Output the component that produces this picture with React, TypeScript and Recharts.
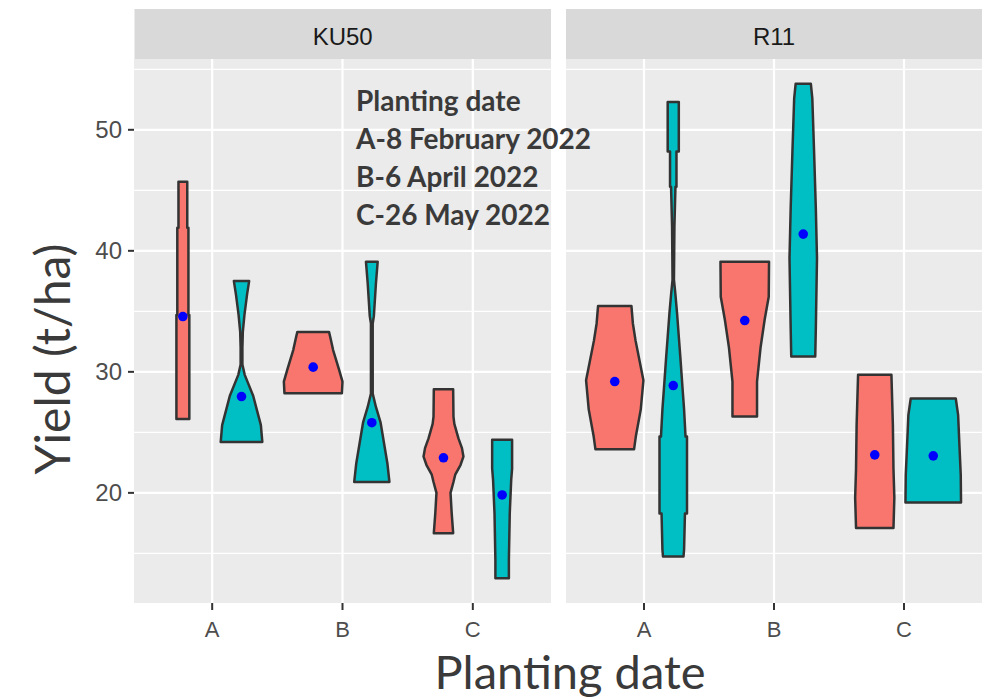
import { ScatterChart, Scatter, XAxis, YAxis, CartesianGrid } from "recharts";

const plantingDates = ["A", "B", "C"];
const cultivars = ["KU50", "R11"];
const majorY = [20, 30, 40, 50];
const minorY = [15, 25, 35, 45, 55];
const yDomain = [10.9, 55.85];

// violin profiles: [yield (t/ha), scaled density where 1 = full half width]
const ku50RedA = [[45.7, 0.15], [41.9, 0.15], [41.9, 0.19], [34.7, 0.19], [34.7, 0.22], [26.1, 0.22]];
const ku50TealA = [[37.5, 0.26], [36.4, 0.19], [34.7, 0.1], [33.3, 0.045], [32.0, 0.03], [30.6, 0.03], [29.75, 0.11], [28.0, 0.4], [26.8, 0.53], [25.6, 0.66], [24.2, 0.71]];
const ku50RedB = [[33.3, 0.54], [32.9, 0.58], [31.8, 0.68], [30.2, 0.88], [29.2, 1.0], [28.24, 0.98]];
const ku50TealB = [[39.1, 0.2], [37.3, 0.14], [34.6, 0.07], [34.0, 0.03], [28.2, 0.03], [27.1, 0.14], [25.8, 0.3], [22.45, 0.53], [20.9, 0.6]];
const ku50RedC = [[28.57, 0.33], [26.3, 0.34], [25.7, 0.37], [24.5, 0.51], [23.7, 0.63], [23.0, 0.68], [22.3, 0.58], [21.5, 0.4], [20.9, 0.34], [20.0, 0.24], [18.3, 0.28], [16.67, 0.33]];
const ku50TealC = [[24.38, 0.34], [22.0, 0.34], [21.1, 0.31], [18.3, 0.26], [14.46, 0.23], [12.95, 0.23]];

const r11RedA = [[35.45, 0.57], [34.0, 0.62], [32.6, 0.71], [29.3, 0.98], [26.9, 0.89], [24.65, 0.72], [23.6, 0.66]];
const r11TealA = [[52.3, 0.19], [48.2, 0.19], [48.2, 0.11], [45.3, 0.11], [45.3, 0.075], [42.0, 0.04], [37.6, 0.024], [36.5, 0.07], [34.85, 0.13], [32.9, 0.19], [31.3, 0.24], [28.9, 0.31], [26.9, 0.37], [24.65, 0.42], [24.65, 0.47], [18.3, 0.47], [18.3, 0.4], [15.3, 0.37], [14.74, 0.35]];
const r11RedB = [[39.1, 0.83], [36.2, 0.82], [34.3, 0.68], [32.0, 0.54], [29.2, 0.42], [26.3, 0.42]];
const r11TealB = [[53.8, 0.26], [52.6, 0.31], [48.2, 0.37], [43.5, 0.43], [39.4, 0.47], [33.6, 0.43], [31.26, 0.41]];
const r11RedC = [[29.75, 0.57], [25.6, 0.62], [22.0, 0.64], [19.6, 0.67], [17.1, 0.64]];
const r11TealC = [[27.8, 0.77], [26.45, 0.85], [24.2, 0.89], [21.5, 0.94], [19.2, 0.95]];

// means (blue dots)
const ku50RedMeans = [34.57, 30.39, 22.9];
const ku50TealMeans = [27.96, 25.8, 19.83];
const r11RedMeans = [29.2, 34.24, 23.14];
const r11TealMeans = [28.87, 41.38, 23.06];

const RED = "#F8766D";
const TEAL = "#00BFC4";
const DODGE = 0.225;
const FONT = "'Liberation Sans', Arial, sans-serif";
const TITLE_FONT = "Lato, 'Open Sans', sans-serif";

function violinOutline(profile: number[][], center: number) {
  const right = profile.map(([y, w]) => ({ x: center + w * DODGE, y }));
  const left = profile
    .slice()
    .reverse()
    .map(([y, w]) => ({ x: center - w * DODGE, y }));
  return [...right, ...left];
}

function buildPanel(red: number[][][], teal: number[][][], redMeans: number[], tealMeans: number[]) {
  const violins: { fill: string; points: { x: number; y: number }[] }[] = [];
  plantingDates.forEach((_, i) => {
    violins.push({ fill: RED, points: violinOutline(red[i], i + 1 - DODGE) });
    violins.push({ fill: TEAL, points: violinOutline(teal[i], i + 1 + DODGE) });
  });
  const means = plantingDates.flatMap((_, i) => [
    { x: i + 1 - DODGE, y: redMeans[i] },
    { x: i + 1 + DODGE, y: tealMeans[i] },
  ]);
  return { violins, means };
}

const violinLine = (fill: string) => (props: any) => {
  const pts = props.points || [];
  if (!pts.length) return <g />;
  const d = pts.map((p: any, i: number) => `${i === 0 ? "M" : "L"}${p.x},${p.y}`).join(" ") + " Z";
  return <path d={d} fill={fill} stroke="#333333" strokeWidth={2.5} strokeLinejoin="round" />;
};

const meanDot = (props: any) => <circle cx={props.cx} cy={props.cy} r={4.8} fill="#0000FF" />;

function Panel({ series, showY, left, width, margin }: any) {
  return (
    <div style={{ position: "absolute", left, top: 0 }}>
      <ScatterChart width={width} height={699} margin={margin}>
        <CartesianGrid fill="#EBEBEB" stroke="#FFFFFF" strokeWidth={1.2} horizontalValues={minorY} vertical={false} />
        <CartesianGrid stroke="#FFFFFF" strokeWidth={2.2} horizontalValues={majorY} verticalValues={[1, 2, 3]} />
        <XAxis
          type="number"
          dataKey="x"
          domain={[0.4, 3.6]}
          ticks={[1, 2, 3]}
          allowDataOverflow
          tickFormatter={(v: number) => plantingDates[v - 1]}
          height={40}
          axisLine={false}
          tickSize={7}
          tickMargin={11}
          tickLine={{ stroke: "#333333", strokeWidth: 2 }}
          tick={{ fill: "#4D4D4D", fontSize: 22, fontFamily: FONT }}
        />
        <YAxis
          type="number"
          dataKey="y"
          domain={yDomain}
          ticks={majorY}
          allowDataOverflow
          hide={!showY}
          width={80}
          axisLine={false}
          tickSize={6}
          tickMargin={6}
          tickLine={{ stroke: "#333333", strokeWidth: 2 }}
          tick={{ fill: "#4D4D4D", fontSize: 24, fontFamily: FONT }}
        />
        {series.violins.map((v: any, i: number) => (
          <Scatter
            key={i}
            data={v.points}
            line={violinLine(v.fill)}
            lineType="joint"
            shape={() => <g />}
            isAnimationActive={false}
          />
        ))}
        <Scatter data={series.means} shape={meanDot} isAnimationActive={false} />
      </ScatterChart>
    </div>
  );
}

export default function App() {
  const ku50 = buildPanel([ku50RedA, ku50RedB, ku50RedC], [ku50TealA, ku50TealB, ku50TealC], ku50RedMeans, ku50TealMeans);
  const r11 = buildPanel([r11RedA, r11RedB, r11RedC], [r11TealA, r11TealB, r11TealC], r11RedMeans, r11TealMeans);

  return (
    <div style={{ position: "absolute", left: 0, top: 0, width: 987, height: 699, background: "#FFFFFF" }}>
      <Panel series={ku50} showY left={0} width={560} margin={{ top: 59, right: 9, bottom: 56, left: 54 }} />
      <Panel series={r11} showY={false} left={556} width={431} margin={{ top: 59, right: 5, bottom: 56, left: 10 }} />
      <svg width={987} height={699} style={{ position: "absolute", left: 0, top: 0, pointerEvents: "none" }}>
        <rect x={134.5} y={9} width={416.5} height={50} fill="#D9D9D9" />
        <rect x={566} y={9} width={416} height={50} fill="#D9D9D9" />
        <text x={342.7} y={45} textAnchor="middle" fontSize={24} fontFamily={FONT} fill="#1A1A1A">
          {cultivars[0]}
        </text>
        <text x={774} y={45} textAnchor="middle" fontSize={24} fontFamily={FONT} fill="#1A1A1A">
          {cultivars[1]}
        </text>
        <g fontFamily={TITLE_FONT} fontWeight="bold" fontSize={28} fill="#3A3A3A">
          <text x={356} y={111}>Planting date</text>
          <text x={356} y={149}>A-8 February 2022</text>
          <text x={356} y={187}>B-6 April 2022</text>
          <text x={356} y={225}>C-26 May 2022</text>
        </g>
        <text x={570} y={689} textAnchor="middle" fontSize={47} fontFamily={TITLE_FONT} fill="#3A3A3A">
          Planting date
        </text>
        <text transform="translate(70,359) rotate(-90)" textAnchor="middle" fontSize={48} fontFamily={TITLE_FONT} fill="#3A3A3A">
          Yield (t/ha)
        </text>
      </svg>
    </div>
  );
}
